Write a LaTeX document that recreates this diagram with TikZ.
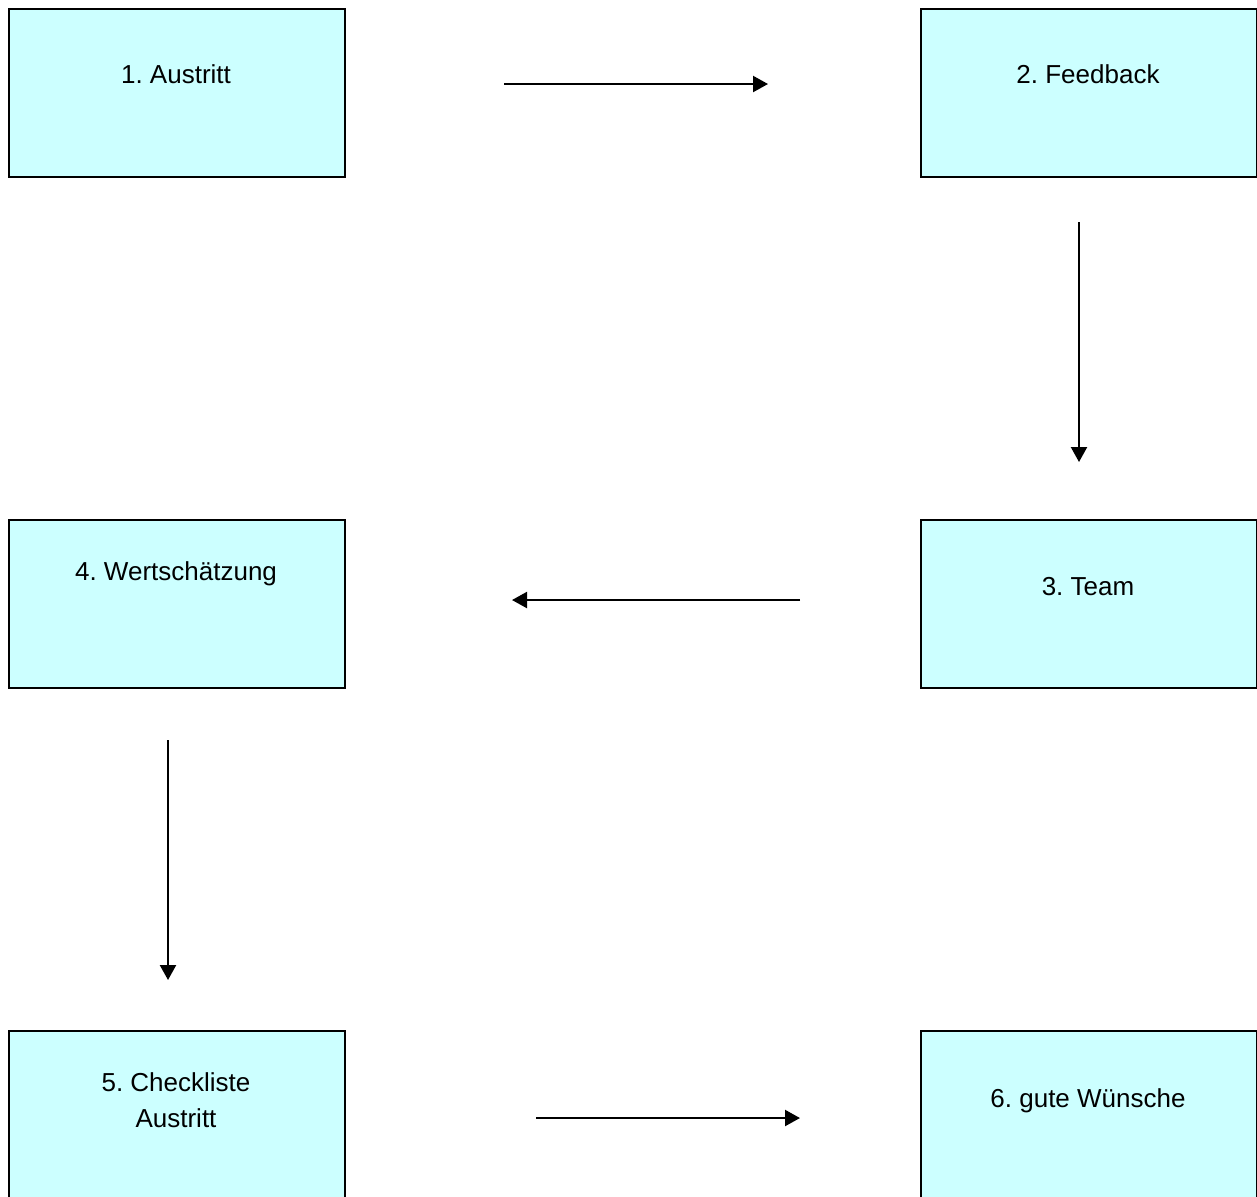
\documentclass[tikz,border=0pt]{standalone}
\usepackage{fontspec}
\setmainfont{Liberation Sans}
\usetikzlibrary{arrows.meta}
\definecolor{boxfill}{HTML}{CCFFFF}
\frenchspacing
\begin{document}
\begin{tikzpicture}[x=0.5pt,y=-0.5pt,
  stepbox/.style={draw=black, line width=1pt, fill=boxfill, minimum width=168pt, minimum height=84pt, inner sep=0pt, anchor=north west},
  lbl/.style={font=\fontsize{13}{15}\selectfont, anchor=base, inner sep=0pt},
  flow/.style={line width=1.1pt, -{Triangle[length=7.5pt,width=8pt]}}]
\useasboundingbox (0,0) rectangle (1257,1196);
\fill[white] (0,0) rectangle (1257,1196);
\node[stepbox] (b1) at (8,8) {};
\node[stepbox] (b2) at (920,8) {};
\node[stepbox] (b3) at (920,519) {};
\node[stepbox] (b4) at (8,519) {};
\node[stepbox] (b5) at (8,1030) {};
\node[stepbox] (b6) at (920,1030) {};
\node[lbl] (t1) at (176,83) {1. Austritt};
\node[lbl] (t2) at (1088,83) {2. Feedback};
\node[lbl] (t3) at (1088,595) {3. Team};
\node[lbl] (t4) at (176,580) {4. Wertschätzung};
\node[lbl] (t5a) at (176,1091) {5. Checkliste};
\node[lbl] (t5b) at (176,1127) {Austritt};
\node[lbl] (t6) at (1088,1107) {6. gute Wünsche};
\coordinate (a1s) at (504,84);
\coordinate (a1e) at (768,84);
\coordinate (a2s) at (1079,222);
\coordinate (a2e) at (1079,462);
\coordinate (a3s) at (800,600);
\coordinate (a3e) at (512,600);
\coordinate (a4s) at (168,740);
\coordinate (a4e) at (168,980);
\coordinate (a5s) at (536,1118);
\coordinate (a5e) at (800,1118);
\draw[flow] (a1s) -- (a1e);
\draw[flow] (a2s) -- (a2e);
\draw[flow] (a3s) -- (a3e);
\draw[flow] (a4s) -- (a4e);
\draw[flow] (a5s) -- (a5e);
\end{tikzpicture}
\end{document}
